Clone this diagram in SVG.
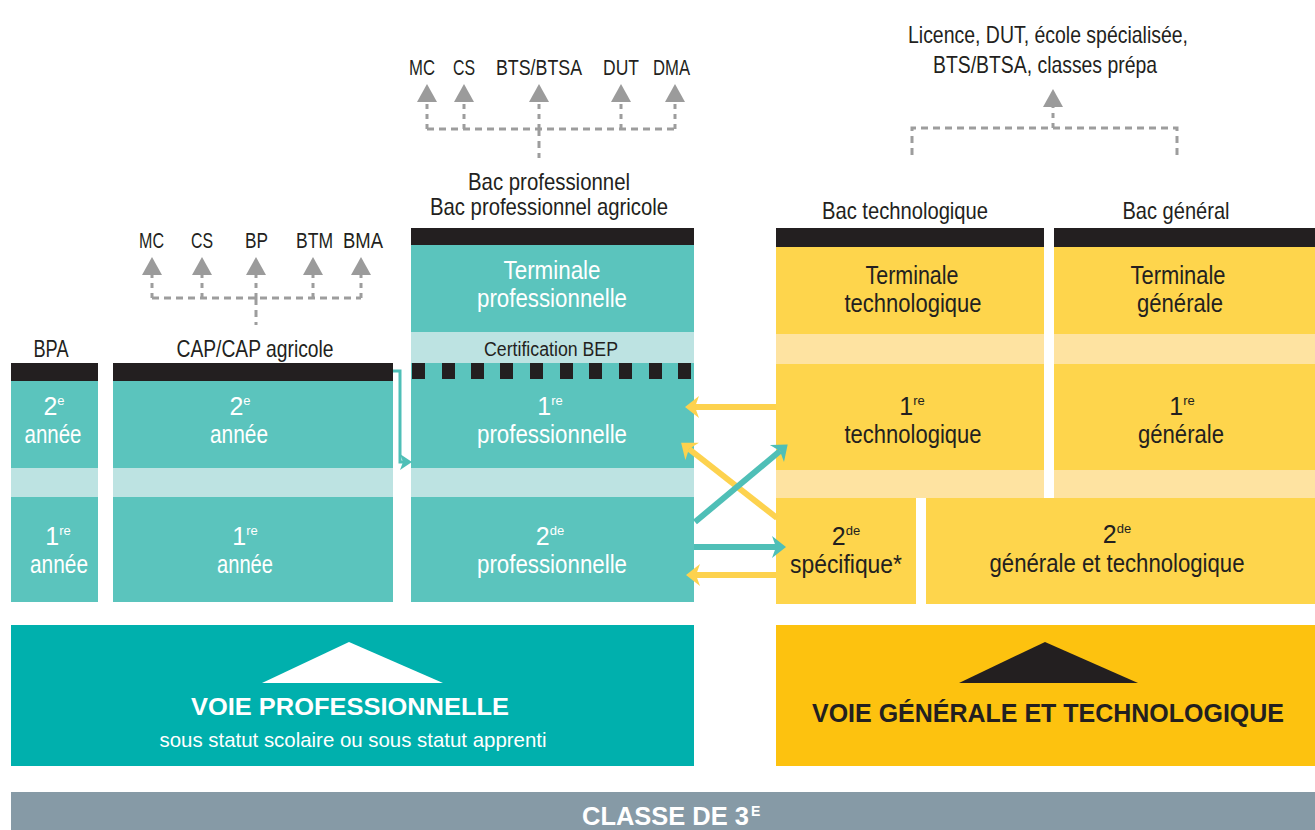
<svg xmlns="http://www.w3.org/2000/svg" width="1315" height="830" viewBox="0 0 1315 830">
<style>
text{font-family:"Liberation Sans","Arial",sans-serif;text-anchor:middle}
.lbl{font-size:24px;fill:#231f20}
.sm{font-size:22px}
.bx{font-size:25px}
.w{fill:#ffffff}
.d{fill:#231f20}
.sup{font-size:13px}
.teal{fill:#5bc4bd}
.tealL{fill:#bde3e2}
.yel{fill:#fed54c}
.yelL{fill:#fee3a1}
.blk{fill:#231f20}
.bold{font-weight:bold}
.dash{fill:none;stroke:#9d9d9d;stroke-width:3;stroke-dasharray:7 5}
.up{fill:none;stroke:#9d9d9d;stroke-width:3;stroke-dasharray:5 5;marker-end:url(#tri)}
.ta{fill:none;stroke:#4fbfb7;stroke-width:6;marker-end:url(#ah-t)}
.ya{fill:none;stroke:#fdd24e;stroke-width:6;marker-end:url(#ah-y)}
</style>
<defs>
<marker id="tri" markerUnits="userSpaceOnUse" viewBox="0 -10 18 20" markerWidth="18" markerHeight="20" refX="0" refY="0" orient="auto" overflow="visible">
<path d="M0,-10 L18,0 L0,10 z" fill="#9b9b9b"/>
</marker>
<marker id="ah-t" markerUnits="userSpaceOnUse" viewBox="-5 -11 16 22" markerWidth="16" markerHeight="22" refX="0" refY="0" orient="auto" overflow="visible">
<path d="M-4,-11 L10,0 L-4,11 L0,0 z" fill="#4fbfb7"/>
</marker>
<marker id="ah-y" markerUnits="userSpaceOnUse" viewBox="-5 -11 16 22" markerWidth="16" markerHeight="22" refX="0" refY="0" orient="auto" overflow="visible">
<path d="M-4,-11 L10,0 L-4,11 L0,0 z" fill="#fdd24e"/>
</marker>
<marker id="ah-s" markerUnits="userSpaceOnUse" viewBox="-5 -8 14 16" markerWidth="14" markerHeight="16" refX="0" refY="0" orient="auto" overflow="visible">
<path d="M-3,-8 L9,0 L-3,8 L0,0 z" fill="#4fbfb7"/>
</marker>
</defs>
<rect width="1315" height="830" fill="#ffffff"/>

<g id="node-bpa">
<text class="lbl" x="51" y="357" textLength="35" lengthAdjust="spacingAndGlyphs">BPA</text>
<rect class="blk" x="11" y="363" width="87" height="18"/>
<rect class="teal" x="11" y="381" width="87" height="87"/>
<rect class="tealL" x="11" y="468" width="87" height="29"/>
<rect class="teal" x="11" y="497" width="87" height="105"/>
<text class="bx w" x="54" y="415">2<tspan class="sup" dy="-10">e</tspan></text>
<text class="bx w" x="53" y="443" textLength="57" lengthAdjust="spacingAndGlyphs">année</text>
<text class="bx w" x="58" y="545">1<tspan class="sup" dy="-10">re</tspan></text>
<text class="bx w" x="59" y="573" textLength="58" lengthAdjust="spacingAndGlyphs">année</text>
</g>

<g id="node-cap">
<text class="lbl" x="255" y="357" textLength="157" lengthAdjust="spacingAndGlyphs">CAP/CAP agricole</text>
<rect class="blk" x="113" y="363" width="280" height="18"/>
<rect class="teal" x="113" y="381" width="280" height="87"/>
<rect class="tealL" x="113" y="468" width="280" height="29"/>
<rect class="teal" x="113" y="497" width="280" height="105"/>
<text class="bx w" x="240" y="415">2<tspan class="sup" dy="-10">e</tspan></text>
<text class="bx w" x="239" y="443" textLength="58" lengthAdjust="spacingAndGlyphs">année</text>
<text class="bx w" x="245" y="545">1<tspan class="sup" dy="-10">re</tspan></text>
<text class="bx w" x="245" y="573" textLength="56" lengthAdjust="spacingAndGlyphs">année</text>
</g>

<g id="node-bacpro">
<text class="lbl" x="549" y="190" textLength="162" lengthAdjust="spacingAndGlyphs">Bac professionnel</text>
<text class="lbl" x="549" y="215" textLength="238" lengthAdjust="spacingAndGlyphs">Bac professionnel agricole</text>
<rect class="blk" x="411" y="228" width="283" height="17"/>
<rect class="teal" x="411" y="245" width="283" height="87"/>
<rect class="tealL" x="411" y="332" width="283" height="31"/>
<rect class="teal" x="411" y="363" width="283" height="105"/>
<rect class="tealL" x="411" y="468" width="283" height="29"/>
<rect class="teal" x="411" y="497" width="283" height="105"/>
<g class="blk">
<rect x="412" y="363" width="13" height="16"/><rect x="442" y="363" width="13" height="16"/><rect x="471" y="363" width="13" height="16"/><rect x="500" y="363" width="13" height="16"/><rect x="530" y="363" width="13" height="16"/><rect x="560" y="363" width="13" height="16"/><rect x="589" y="363" width="13" height="16"/><rect x="619" y="363" width="13" height="16"/><rect x="649" y="363" width="13" height="16"/><rect x="678" y="363" width="13" height="16"/>
</g>
<text class="bx w" x="552" y="279" textLength="97" lengthAdjust="spacingAndGlyphs">Terminale</text>
<text class="bx w" x="552" y="307" textLength="150" lengthAdjust="spacingAndGlyphs">professionnelle</text>
<text class="d" x="551" y="356" style="font-size:20px" textLength="134" lengthAdjust="spacingAndGlyphs">Certification BEP</text>
<text class="bx w" x="550" y="415">1<tspan class="sup" dy="-10">re</tspan></text>
<text class="bx w" x="552" y="443" textLength="150" lengthAdjust="spacingAndGlyphs">professionnelle</text>
<text class="bx w" x="550" y="545">2<tspan class="sup" dy="-10">de</tspan></text>
<text class="bx w" x="552" y="573" textLength="150" lengthAdjust="spacingAndGlyphs">professionnelle</text>
</g>

<g id="node-bactechno">
<text class="lbl" x="905" y="219" textLength="166" lengthAdjust="spacingAndGlyphs">Bac technologique</text>
<rect class="blk" x="776" y="228" width="268" height="19"/>
<rect class="yel" x="776" y="247" width="268" height="87"/>
<rect class="yelL" x="776" y="334" width="268" height="30"/>
<rect class="yel" x="776" y="364" width="268" height="106"/>
<rect class="yelL" x="776" y="470" width="268" height="28"/>
<text class="bx d" x="912" y="284" textLength="93" lengthAdjust="spacingAndGlyphs">Terminale</text>
<text class="bx d" x="913" y="312" textLength="137" lengthAdjust="spacingAndGlyphs">technologique</text>
<text class="bx d" x="912" y="415">1<tspan class="sup" dy="-10">re</tspan></text>
<text class="bx d" x="913" y="443" textLength="137" lengthAdjust="spacingAndGlyphs">technologique</text>
</g>

<g id="node-bacgen">
<text class="lbl" x="1176" y="219" textLength="107" lengthAdjust="spacingAndGlyphs">Bac général</text>
<rect class="blk" x="1054" y="228" width="261" height="19"/>
<rect class="yel" x="1054" y="247" width="261" height="87"/>
<rect class="yelL" x="1054" y="334" width="261" height="30"/>
<rect class="yel" x="1054" y="364" width="261" height="106"/>
<rect class="yelL" x="1054" y="470" width="261" height="28"/>
<text class="bx d" x="1178" y="284" textLength="95" lengthAdjust="spacingAndGlyphs">Terminale</text>
<text class="bx d" x="1180" y="312" textLength="86" lengthAdjust="spacingAndGlyphs">générale</text>
<text class="bx d" x="1182" y="415">1<tspan class="sup" dy="-10">re</tspan></text>
<text class="bx d" x="1181" y="443" textLength="86" lengthAdjust="spacingAndGlyphs">générale</text>
</g>

<g id="node-2de-spec">
<rect class="yel" x="776" y="498" width="140" height="106"/>
<text class="bx d" x="846" y="545">2<tspan class="sup" dy="-10">de</tspan></text>
<text class="bx d" x="846" y="573" textLength="112" lengthAdjust="spacingAndGlyphs">spécifique*</text>
</g>

<g id="node-2de-gen">
<rect class="yel" x="926" y="498" width="389" height="106"/>
<text class="bx d" x="1117" y="543">2<tspan class="sup" dy="-10">de</tspan></text>
<text class="bx d" x="1117" y="572" textLength="255" lengthAdjust="spacingAndGlyphs">générale et technologique</text>
</g>

<g id="node-cap-next">
<text class="lbl sm" x="151.5" y="248" textLength="25" lengthAdjust="spacingAndGlyphs">MC</text>
<text class="lbl sm" x="202" y="248" textLength="22" lengthAdjust="spacingAndGlyphs">CS</text>
<text class="lbl sm" x="256.5" y="248" textLength="23" lengthAdjust="spacingAndGlyphs">BP</text>
<text class="lbl sm" x="314.5" y="248" textLength="37" lengthAdjust="spacingAndGlyphs">BTM</text>
<text class="lbl sm" x="363" y="248" textLength="40" lengthAdjust="spacingAndGlyphs">BMA</text>
</g>

<g id="node-bacpro-next">
<text class="lbl sm" x="422" y="75" textLength="26" lengthAdjust="spacingAndGlyphs">MC</text>
<text class="lbl sm" x="464" y="75" textLength="22" lengthAdjust="spacingAndGlyphs">CS</text>
<text class="lbl sm" x="539" y="75" textLength="86" lengthAdjust="spacingAndGlyphs">BTS/BTSA</text>
<text class="lbl sm" x="621" y="75" textLength="36" lengthAdjust="spacingAndGlyphs">DUT</text>
<text class="lbl sm" x="671.5" y="75" textLength="37" lengthAdjust="spacingAndGlyphs">DMA</text>
</g>

<g id="node-bacgt-next">
<text class="lbl" x="1048" y="43" textLength="280" lengthAdjust="spacingAndGlyphs">Licence, DUT, école spécialisée,</text>
<text class="lbl" x="1045" y="73" textLength="224" lengthAdjust="spacingAndGlyphs">BTS/BTSA, classes prépa</text>
</g>

<g id="node-voie-pro">
<rect x="11" y="625" width="683" height="141" fill="#00b0ad"/>
<polygon points="349,642 443,683 262,683" fill="#ffffff"/>
<text class="w bold" x="350" y="715" style="font-size:24px" textLength="318" lengthAdjust="spacingAndGlyphs">VOIE PROFESSIONNELLE</text>
<text class="w" x="353" y="747" style="font-size:21px" textLength="387" lengthAdjust="spacingAndGlyphs">sous statut scolaire ou sous statut apprenti</text>
</g>

<g id="node-voie-gt">
<rect x="776" y="625" width="539" height="141" fill="#fdc20f"/>
<polygon points="1045,642 1138,683 959,683" fill="#231f20"/>
<text class="d bold" x="1048" y="722" style="font-size:26px" textLength="472" lengthAdjust="spacingAndGlyphs">VOIE GÉNÉRALE ET TECHNOLOGIQUE</text>
</g>

<g id="node-3e">
<rect x="11" y="792" width="1304" height="38" fill="#869aa6"/>
<text class="w bold" x="582" y="825" style="font-size:25px;text-anchor:start" textLength="167" lengthAdjust="spacingAndGlyphs">CLASSE DE 3</text>
<text class="w bold" x="751" y="816" style="font-size:14px;text-anchor:start">E</text>
</g>

<g id="connectors">
<path class="dash" d="M152,298 H361 M256,298 V325"/>
<path class="up" d="M152,298 V275"/>
<path class="up" d="M202,298 V275"/>
<path class="up" d="M256,298 V275"/>
<path class="up" d="M313,298 V275"/>
<path class="up" d="M361,298 V275"/>

<path class="dash" d="M427,129 H675 M539,129 V158"/>
<path class="up" d="M427,129 V102"/>
<path class="up" d="M464,129 V102"/>
<path class="up" d="M539,129 V102"/>
<path class="up" d="M621,129 V102"/>
<path class="up" d="M675,129 V102"/>

<path class="dash" d="M912,155 V128 H1177 V155"/>
<path class="up" d="M1053,128 V107"/>

<path d="M393,371 H400 V462 H403" fill="none" stroke="#4fbfb7" stroke-width="3" marker-end="url(#ah-s)"/>

<path class="ya" d="M776,407 H695"/>
<path class="ya" d="M777,518 L689,449"/>
<path class="ta" d="M695,522 L780,451"/>
<path class="ta" d="M694,547 H776"/>
<path class="ya" d="M776,575 H696"/>
</g>
</svg>
